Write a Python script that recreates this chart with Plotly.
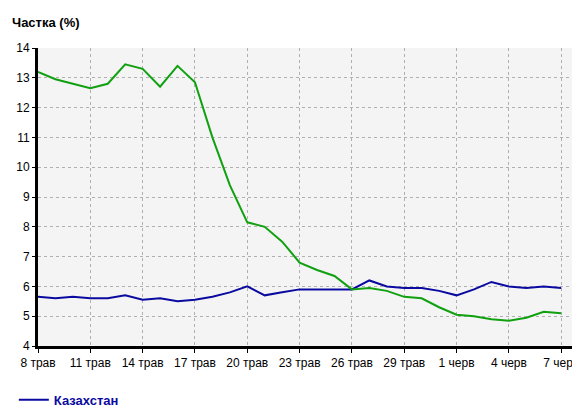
import plotly.graph_objects as go
import pandas as pd

dates = pd.date_range("2024-05-08", "2024-06-07").strftime("%Y-%m-%d").tolist()
ukraine = [13.2,12.95,12.8,12.65,12.8,13.45,13.3,12.7,13.4,12.85,11.0,9.4,8.15,8.0,7.5,6.8,6.55,6.35,5.9,5.95,5.85,5.65,5.6,5.3,5.05,5.0,4.9,4.85,4.95,5.15,5.1]
kazakhstan = [5.65,5.6,5.65,5.6,5.6,5.7,5.55,5.6,5.5,5.55,5.65,5.8,6.0,5.7,5.8,5.9,5.9,5.9,5.9,6.2,6.0,5.95,5.95,5.85,5.7,5.9,6.15,6.0,5.95,6.0,5.95]
tick_vals = dates[::3]
tick_text = ["8 трав","11 трав","14 трав","17 трав","20 трав","23 трав","26 трав","29 трав","1 черв","4 черв","7 черв"]

fig = go.Figure()
fig.add_trace(go.Scatter(x=dates, y=kazakhstan, name="<b><span style='color:#0a0aa0'>Казахстан</span></b>",
                         mode="lines", line=dict(color="#0a0aa0", width=2)))
fig.add_trace(go.Scatter(x=dates, y=ukraine, name="<b><span style='color:#10a010'>Україна</span></b>",
                         mode="lines", line=dict(color="#10a010", width=2)))
fig.update_layout(
    width=580, height=408, margin=dict(l=30, r=13, t=40, b=70, autoexpand=False),
    paper_bgcolor="white", plot_bgcolor="#f4f4f4",
    font=dict(family="Liberation Sans, Arial", size=12, color="black"),
    showlegend=True,
    legend=dict(x=-0.045, y=-0.13, xanchor="left", yanchor="top", tracegroupgap=0,
                font=dict(size=13), itemwidth=30, bgcolor="rgba(0,0,0,0)"),
    annotations=[dict(text="<b>Частка (%)</b>", x=0, y=1, xref="paper", yref="paper",
                      xshift=-28, yshift=26, xanchor="left", yanchor="middle", showarrow=False,
                      font=dict(size=13))],
)
fig.update_xaxes(range=["2024-05-08", "2024-06-07 19:00"], tickvals=tick_vals, ticktext=tick_text,
                 automargin=False,
                 showgrid=True, gridcolor="#b0b0b0", griddash="dot", gridwidth=1,
                 showline=True, linecolor="black", linewidth=3, ticks="outside", ticklen=4,
                 tickcolor="black", zeroline=False)
fig.update_yaxes(range=[4, 14], dtick=1, automargin=False, showgrid=True, gridcolor="#b0b0b0", griddash="dot",
                 showline=True, linecolor="black", linewidth=3, ticks="outside", ticklen=3,
                 tickcolor="black", zeroline=False)
fig.write_html("out.html")
